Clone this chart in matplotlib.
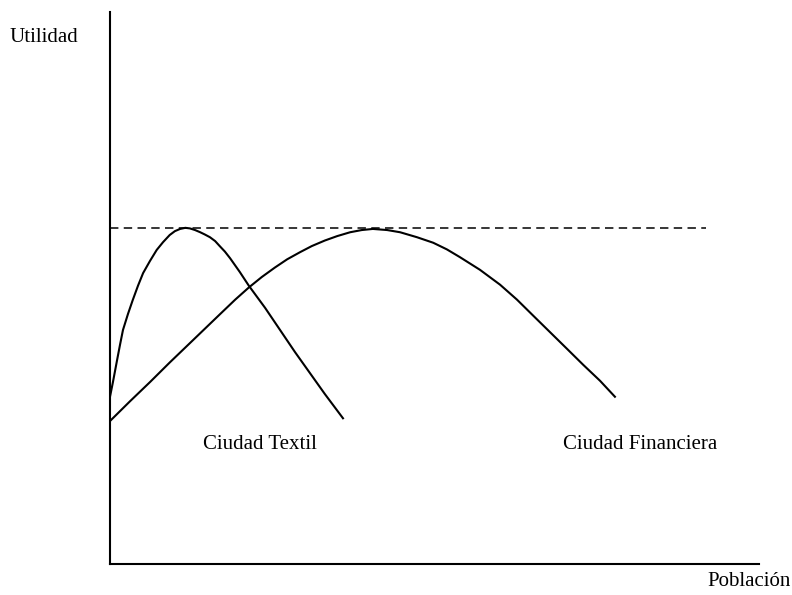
import numpy as np
import matplotlib
matplotlib.use("Agg")
import matplotlib.pyplot as plt

plt.rcParams['font.family'] = ['Liberation Serif', 'DejaVu Serif']

# Curva "Ciudad Textil" (población, utilidad) en unidades 0-100
textil_x = [0, 0.46, 1.1, 1.54, 2.0, 2.77, 3.5, 4.31, 5.1, 6.16, 7.2, 8.17, 9.2, 10.0,
            10.8, 11.6, 12.3, 13.1, 13.9, 14.6, 15.4, 16.2, 16.9, 17.7, 18.5, 20.0,
            21.4, 23.9, 26.2, 28.5, 30.8, 33.1, 35.9]
textil_y = [30.3, 33.0, 37.0, 39.7, 42.4, 45.3, 47.8, 50.4, 52.7, 54.9, 56.9, 58.3, 59.6,
            60.3, 60.7, 60.9, 60.8, 60.5, 60.1, 59.7, 59.2, 58.5, 57.6, 56.6, 55.4, 52.9,
            50.4, 46.4, 42.4, 38.4, 34.6, 30.8, 26.4]

# Curva "Ciudad Financiera"
financiera_x = [0, 3.1, 6.2, 9.2, 12.3, 14.6, 16.9, 19.3, 21.4, 23.4, 25.4, 27.3, 29.3,
                31.1, 33.1, 35.0, 37.0, 38.8, 40.5, 42.7, 44.7, 47.3, 49.8, 51.9, 53.9,
                57.0, 60.1, 62.7, 65.2, 67.8, 70.4, 72.9, 75.5, 77.8]
financiera_y = [25.9, 29.5, 33.0, 36.5, 40.0, 42.6, 45.2, 47.9, 50.1, 52.0, 53.7, 55.2,
                56.5, 57.6, 58.6, 59.4, 60.1, 60.5, 60.7, 60.5, 60.1, 59.2, 58.2, 57.0,
                55.6, 53.3, 50.6, 47.9, 45.0, 42.0, 39.0, 36.1, 33.2, 30.3]

# Nivel máximo de utilidad (línea discontinua)
nivel_max = 60.9
nivel_x_fin = 91.8

labels = ["Ciudad Textil", "Ciudad Financiera"]
label_x = [23.1, 81.7]
label_y = [21.6, 21.6]

fig = plt.figure(figsize=(7.92, 5.95), dpi=100)
ax = fig.add_axes([110/792, 1 - 564/595, 649/792, 552/595])

for xs, ys in [(textil_x, textil_y), (financiera_x, financiera_y)]:
    ax.plot(xs, ys, color='black', lw=1.5, solid_joinstyle='round')
ax.plot([0, nivel_x_fin], [nivel_max, nivel_max], color='black', lw=1.1,
        linestyle=(0, (5.5, 3.5)))

for txt, x, y in zip(labels, label_x, label_y):
    ax.text(x, y, txt, ha='center', va='center', fontsize=15)

ax.set_xlim(0, 100)
ax.set_ylim(0, 100)
ax.set_xticks([])
ax.set_yticks([])
for s in ['top', 'right']:
    ax.spines[s].set_visible(False)
for s in ['left', 'bottom']:
    ax.spines[s].set_linewidth(1.5)

fig.text(10/792, 1 - 38/595, "Utilidad", ha='left', va='center', fontsize=15)
fig.text(707/792, 1 - 581/595, "Población", ha='left', va='center', fontsize=15)

fig.savefig("out.png", dpi=100)
